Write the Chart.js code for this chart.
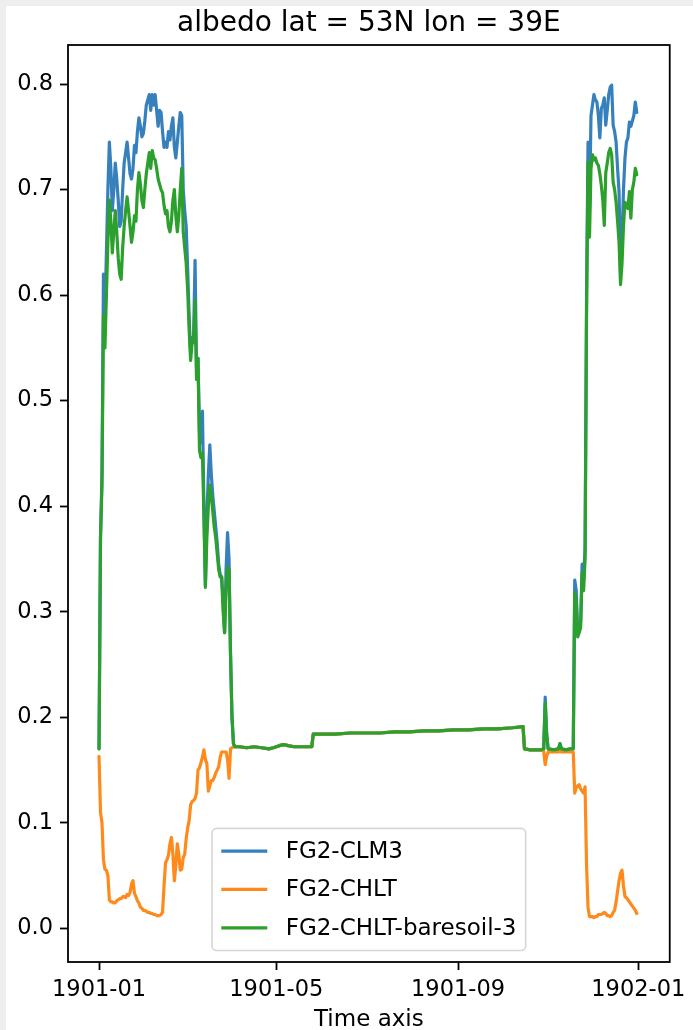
<!DOCTYPE html>
<html>
<head>
<meta charset="utf-8">
<script src="https://cdn.jsdelivr.net/npm/chart.js@4/dist/chart.umd.min.js"></script>
<style>
  html, body { margin: 0; padding: 0; background: #fff; }
  #wrap { width: 693px; height: 1030px; position: relative; }
</style>
</head>
<body>
<div id="wrap"><canvas id="c" width="693" height="1030"></canvas></div>
<script>
// Day of year (0 = 1901-01-01) for each sample
const days = [
  0,1,2,3,4,5,6,7,8,9,10,11,12,13,14,15,16,17,18,19,20,21,22,23,24,25,26,27,28,29,
  30,31,32,33,34,35,36,37,38,39,40,41,42,43,44,45,46,47,48,49,50,51,52,53,54,55,56,57,58,59,
  60,61,62,63,64,65,66,67,68,69,70,71,72,73,74,75,76,77,78,79,80,81,82,83,84,85,86,87,88,89,
  90,91,92,
  95,100,105,110,115,118,122,125,128,132,136,140,144,145,150,160,170,180,190,200,210,220,230,240,
  250,260,270,280,287,288,292,296,299,301,302,303,304,308,311,312,313,316,319,320,
  321,322,323,324,325,326,327,328,329,330,331,332,333,334,335,336,337,338,339,340,341,342,
  343,344,345,346,347,348,349,350,351,352,353,354,355,356,357,358,359,360,361,362,363,364
];

// Albedo, FG2-CLM3
const clm3 = [
  0.17,0.37,0.43,0.62,0.58,0.64,0.70,0.745,0.72,0.68,
  0.70,0.725,0.71,0.69,0.665,0.67,0.70,0.725,0.735,0.745,
  0.73,0.715,0.71,0.72,0.742,0.735,0.755,0.768,0.76,0.75,
  0.753,0.765,0.78,0.785,0.79,0.775,0.79,0.78,0.79,0.775,
  0.76,0.775,0.773,0.755,0.74,0.745,0.74,0.755,0.747,0.76,
  0.768,0.74,0.73,0.745,0.76,0.773,0.77,0.70,0.68,0.665,
  0.625,0.58,0.545,0.56,0.56,0.633,0.53,0.54,0.47,0.46,
  0.49,0.40,0.325,0.39,0.43,0.458,0.43,0.41,0.395,0.38,
  0.365,0.345,0.335,0.333,0.31,0.28,0.34,0.375,0.35,0.26,
  0.20,0.175,0.172,
  0.172,0.171,0.172,0.171,0.170,0.171,0.173,0.174,0.173,0.172,0.172,0.172,0.172,0.184,
  0.184,0.184,0.185,0.185,0.185,0.186,0.186,0.187,0.187,0.188,0.188,0.189,0.189,0.190,
  0.191,0.170,0.169,0.169,0.169,0.170,0.219,0.185,0.170,0.169,0.170,0.175,0.170,0.169,
  0.170,0.170,
  0.17,0.33,0.32,0.28,0.285,0.29,0.345,0.33,0.36,0.60,
  0.745,0.68,0.77,0.78,0.79,0.785,0.783,0.77,
  0.749,0.777,0.78,0.787,0.761,0.775,0.79,0.797,0.799,0.761,
  0.755,0.745,0.72,0.698,0.62,0.65,0.70,0.73,0.745,0.749,
  0.764,0.76,0.765,0.77,0.783,0.773
];

// Albedo, FG2-CHLT
const chlt = [
  0.163,0.11,0.10,0.065,0.056,0.055,0.05,0.027,0.025,0.025,
  0.024,0.024,0.026,0.027,0.028,0.028,0.03,0.03,0.029,0.032,
  0.031,0.034,0.042,0.045,0.033,0.03,0.026,0.024,0.02,0.019,
  0.017,0.017,0.016,0.015,0.015,0.014,0.014,0.013,0.013,0.012,
  0.012,0.012,0.013,0.015,0.04,0.062,0.065,0.069,0.08,0.086,
  0.07,0.045,0.06,0.08,0.07,0.055,0.056,0.067,0.07,0.085,
  0.095,0.102,0.117,0.12,0.121,0.123,0.128,0.15,0.152,0.157,
  0.162,0.169,0.16,0.156,0.13,0.135,0.14,0.14,0.143,0.147,
  0.15,0.153,0.162,0.167,0.167,0.167,0.167,0.16,0.142,0.17,
  0.171,0.172,0.172,
  0.172,0.171,0.172,0.171,0.170,0.171,0.173,0.174,0.173,0.172,0.172,0.172,0.172,0.184,
  0.184,0.184,0.185,0.185,0.185,0.186,0.186,0.187,0.187,0.188,0.188,0.189,0.189,0.190,
  0.191,0.170,0.169,0.169,0.169,0.168,0.155,0.163,0.167,0.167,0.167,0.168,0.167,0.167,
  0.167,0.167,
  0.167,0.128,0.133,0.135,0.136,0.132,0.13,0.128,0.134,0.06,
  0.02,0.011,0.011,0.011,0.01,0.011,0.011,0.013,
  0.013,0.013,0.014,0.015,0.014,0.012,0.012,0.011,0.012,0.015,
  0.017,0.025,0.035,0.045,0.052,0.055,0.04,0.03,0.029,0.027,
  0.025,0.023,0.021,0.019,0.017,0.014
];

// Albedo, FG2-CHLT-baresoil-3
const baresoil = [
  0.17,0.37,0.42,0.58,0.55,0.60,0.65,0.69,0.67,0.64,
  0.66,0.68,0.66,0.635,0.62,0.615,0.645,0.665,0.68,0.693,
  0.68,0.665,0.65,0.66,0.675,0.67,0.70,0.716,0.705,0.69,
  0.683,0.70,0.715,0.725,0.735,0.72,0.737,0.73,0.728,0.72,
  0.71,0.705,0.70,0.697,0.685,0.677,0.68,0.665,0.66,0.67,
  0.69,0.70,0.675,0.66,0.675,0.70,0.72,0.66,0.645,0.63,
  0.605,0.567,0.538,0.555,0.555,0.595,0.52,0.54,0.453,0.446,
  0.45,0.39,0.323,0.37,0.40,0.42,0.41,0.395,0.38,0.37,
  0.355,0.34,0.333,0.333,0.30,0.28,0.32,0.342,0.34,0.26,
  0.20,0.175,0.172,
  0.172,0.171,0.172,0.171,0.170,0.171,0.173,0.174,0.173,0.172,0.172,0.172,0.172,0.184,
  0.184,0.184,0.185,0.185,0.185,0.186,0.186,0.187,0.187,0.188,0.188,0.189,0.189,0.190,
  0.191,0.170,0.169,0.169,0.169,0.170,0.213,0.182,0.170,0.169,0.170,0.175,0.170,0.169,
  0.170,0.170,
  0.17,0.318,0.31,0.276,0.28,0.285,0.336,0.32,0.35,0.58,
  0.726,0.655,0.72,0.733,0.728,0.73,0.725,0.723,
  0.715,0.704,0.69,0.666,0.716,0.725,0.735,0.739,0.733,0.707,
  0.70,0.688,0.67,0.65,0.61,0.63,0.665,0.688,0.685,0.682,
  0.698,0.673,0.70,0.707,0.72,0.714
];

// Axis ticks
const xTickDays = [0, 120, 243, 365];
const xTickLabels = ['1901-01', '1901-05', '1901-09', '1902-01'];
const yTicks = [0.0, 0.1, 0.2, 0.3, 0.4, 0.5, 0.6, 0.7, 0.8];

const FONT = 'DejaVu Sans';
const TICK_SIZE = 22.5;
const LEGEND_SIZE = 23;
const BLUE = '#3580bd';
const ORANGE = '#ff8a1c';
const GREEN = '#2ca02c';

function series(values) {
  return days.map((d, i) => ({ x: d, y: values[i] }));
}

// White page with a thin grey band along the top and left edges
const backgroundPlugin = {
  id: 'pageBackground',
  beforeDraw(chart) {
    const c = chart.ctx;
    c.save();
    c.fillStyle = '#ffffff';
    c.fillRect(0, 0, chart.width, chart.height);
    c.fillStyle = '#eeeeee';
    c.fillRect(0, 0, chart.width, 6);
    c.fillRect(0, 0, 6, chart.height);
    c.restore();
  }
};

// Axes frame, title, x-axis label and the in-plot legend
const decorPlugin = {
  id: 'decor',
  afterDatasetsDraw(chart) {
    const a = chart.chartArea;
    const c = chart.ctx;
    c.save();
    c.strokeStyle = '#000';
    c.lineWidth = 1.8;
    c.strokeRect(a.left, a.top, a.right - a.left, a.bottom - a.top);
    c.restore();
  },
  afterDraw(chart) {
    const a = chart.chartArea;
    const c = chart.ctx;
    const cx = (a.left + a.right) / 2;
    c.save();
    c.fillStyle = '#000';
    c.textAlign = 'center';
    c.textBaseline = 'alphabetic';
    c.font = '28px "' + FONT + '"';
    c.fillText('albedo lat = 53N lon = 39E', cx, a.top - 14);
    c.font = '23px "' + FONT + '"';
    c.fillText('Time axis', cx, 1026);

    // legend
    const fs = LEGEND_SIZE;
    const pad = 0.4 * fs, handle = 2 * fs, gap = 0.8 * fs, rowH = 1.17 * fs, spacing = 0.5 * fs;
    const sets = chart.data.datasets;
    c.font = fs + 'px "' + FONT + '"';
    let textW = 0;
    sets.forEach(ds => { textW = Math.max(textW, c.measureText(ds.label).width); });
    const w = pad * 2 + handle + gap + textW;
    const h = pad * 2 + sets.length * rowH + (sets.length - 1) * spacing;
    const x0 = cx - w / 2;
    const y0 = a.bottom - 0.5 * fs - h;
    const r = 0.2 * fs;
    c.beginPath();
    c.moveTo(x0 + r, y0);
    c.arcTo(x0 + w, y0, x0 + w, y0 + h, r);
    c.arcTo(x0 + w, y0 + h, x0, y0 + h, r);
    c.arcTo(x0, y0 + h, x0, y0, r);
    c.arcTo(x0, y0, x0 + w, y0, r);
    c.closePath();
    c.fillStyle = 'rgba(255,255,255,0.8)';
    c.fill();
    c.strokeStyle = 'rgba(204,204,204,0.8)';
    c.lineWidth = 1.6;
    c.stroke();
    c.textAlign = 'left';
    c.textBaseline = 'middle';
    sets.forEach((ds, i) => {
      const yy = y0 + pad + rowH / 2 + i * (rowH + spacing);
      c.strokeStyle = ds.borderColor;
      c.lineWidth = 3.2;
      c.beginPath();
      c.moveTo(x0 + pad, yy);
      c.lineTo(x0 + pad + handle, yy);
      c.stroke();
      c.fillStyle = '#000';
      c.fillText(ds.label, x0 + pad + handle + gap, yy + 1);
    });
    c.restore();
  }
};

new Chart(document.getElementById('c'), {
  type: 'line',
  data: {
    datasets: [
      { label: 'FG2-CLM3', data: series(clm3), borderColor: BLUE, order: 3 },
      { label: 'FG2-CHLT', data: series(chlt), borderColor: ORANGE, order: 2 },
      { label: 'FG2-CHLT-baresoil-3', data: series(baresoil), borderColor: GREEN, order: 1 }
    ]
  },
  options: {
    responsive: false,
    animation: false,
    devicePixelRatio: 1,
    layout: { autoPadding: false, padding: { top: 45, right: 14, left: 0, bottom: 0 } },
    elements: {
      point: { radius: 0 },
      line: { borderWidth: 3.2, tension: 0, fill: false, borderJoinStyle: 'round', borderCapStyle: 'round' }
    },
    plugins: {
      legend: { display: false },
      tooltip: { enabled: false },
      title: { display: false }
    },
    scales: {
      x: {
        type: 'linear',
        min: -21,
        max: 386.3,
        afterFit(s) { s.height = 68; },
        afterBuildTicks(s) { s.ticks = xTickDays.map(v => ({ value: v })); },
        ticks: {
          callback: (v, i) => xTickLabels[i],
          font: { family: FONT, size: TICK_SIZE },
          color: '#000',
          padding: 7,
          maxRotation: 0,
          autoSkip: false
        },
        grid: { drawOnChartArea: false, drawTicks: true, tickLength: 8, tickWidth: 1.8, tickColor: '#000' },
        border: { display: false }
      },
      y: {
        type: 'linear',
        min: -0.032,
        max: 0.837,
        afterFit(s) { s.width = 68; },
        afterBuildTicks(s) { s.ticks = yTicks.map(v => ({ value: v })); },
        ticks: {
          callback: v => v.toFixed(1),
          font: { family: FONT, size: TICK_SIZE },
          color: '#000',
          padding: 7,
          autoSkip: false
        },
        grid: { drawOnChartArea: false, drawTicks: true, tickLength: 8, tickWidth: 1.8, tickColor: '#000' },
        border: { display: false }
      }
    }
  },
  plugins: [backgroundPlugin, decorPlugin]
});
</script>
</body>
</html>
